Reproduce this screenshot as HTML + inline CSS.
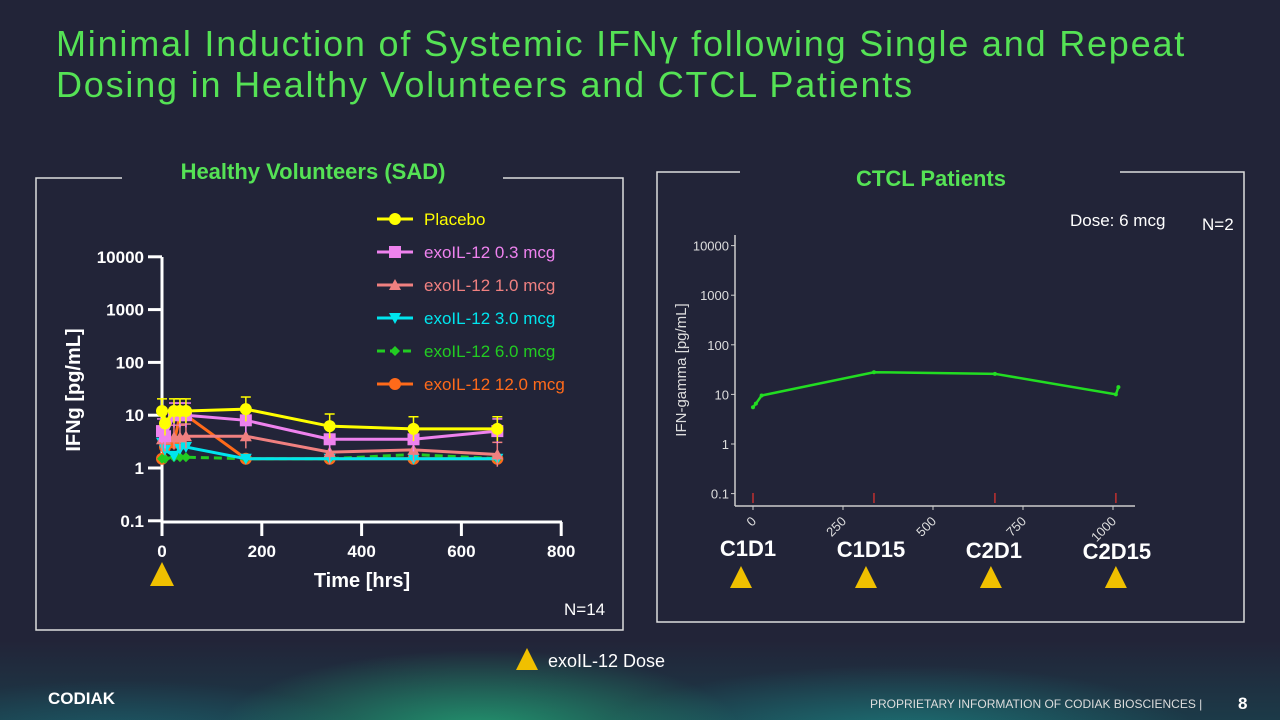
<!DOCTYPE html>
<html><head><meta charset="utf-8"><style>
body{margin:0;width:1280px;height:720px;overflow:hidden;background:#222438;font-family:"Liberation Sans",sans-serif;position:relative}
.t{position:absolute;color:#55e255;font-size:36px;letter-spacing:1.8px;left:56px;line-height:41px;top:23px}
.aur{position:absolute;left:0;top:640px;width:1280px;height:80px;background:radial-gradient(ellipse 260px 80px at 480px 90px,rgba(40,220,140,.55),transparent),radial-gradient(ellipse 300px 70px at 900px 95px,rgba(30,180,170,.45),transparent),radial-gradient(ellipse 250px 60px at 120px 100px,rgba(30,140,150,.4),transparent),linear-gradient(#222438,#1c3a48)}
</style></head><body>
<div class="aur"></div>
<div class="t">Minimal Induction of Systemic IFNγ following Single and Repeat<br>Dosing in Healthy Volunteers and CTCL Patients</div>
<svg id="s" width="1280" height="720" style="position:absolute;left:0;top:0" font-family="Liberation Sans, sans-serif">
<g fill="none" stroke="#ddd" stroke-width="1.5">
<polyline points="122,178 36,178 36,630 623,630 623,178 503,178"/>
</g>
<text x="313" y="179" text-anchor="middle" fill="#55e255" font-size="22" font-weight="bold">Healthy Volunteers (SAD)</text>
<g fill="none" stroke="#ddd" stroke-width="1.5">
<polyline points="740,172 657,172 657,622 1244,622 1244,172 1120,172"/>
</g>
<text x="931" y="186" text-anchor="middle" fill="#55e255" font-size="22" font-weight="bold">CTCL Patients</text>
<g id="L"></g><g id="R"></g>
<text x="1070" y="226" fill="#fff" font-size="17">Dose: 6 mcg</text>
<text x="1202" y="230" fill="#fff" font-size="17">N=2</text>
<text x="564" y="615" fill="#fff" font-size="17">N=14</text>
<polygon points="516,670 538,670 527,648" fill="#f0c000"/>
<text x="548" y="667" fill="#fff" font-size="18">exoIL-12 Dose</text>
<text x="48" y="704" fill="#fff" font-size="17" font-weight="bold">CODIAK</text>
<text x="870" y="708" fill="#ddd" font-size="12">PROPRIETARY INFORMATION OF CODIAK BIOSCIENCES  |</text>
<text x="1238" y="709" fill="#fff" font-size="17" font-weight="bold">8</text>
</svg>
<script>
const NS='http://www.w3.org/2000/svg';
function mk(p,tag,a,txt){const e=document.createElementNS(NS,tag);for(const k in a)e.setAttribute(k,a[k]);if(txt!==undefined)e.textContent=txt;p.appendChild(e);return e;}
// Left chart data
const times=[0,6,24,36,48,168,336,504,672];
const placebo=[12,7,12,12,12,13,6.2,5.5,5.5];
const dose03=[5,4,10,10,10,8,3.5,3.5,5];
const dose10=[3.5,3.5,3.8,3.8,4,4,2,2.2,1.8];
const dose30=[3,2.2,1.7,2.3,2.5,1.5,1.5,1.5,1.5];
const dose60=[1.5,1.5,1.6,1.6,1.6,1.5,1.5,1.8,1.5];
const dose120=[1.5,2.5,3,10,10,1.5,1.5,1.5,1.5];
const xTicksL=[0,200,400,600,800];
const yTicksL=[0.1,1,10,100,1000,10000];
const legendNames=['Placebo','exoIL-12 0.3 mcg','exoIL-12 1.0 mcg','exoIL-12 3.0 mcg','exoIL-12 6.0 mcg','exoIL-12 12.0 mcg'];
// Right chart data
const ctclTimes=[0,8,24,336,672,1008,1015];
const ctclVals=[5.5,6.5,9.5,28,26,10,14];
const xTicksR=[0,250,500,750,1000];
const yTicksR=[0.1,1,10,100,1000,10000];
const doseTimesR=[0,336,672,1008];
const doseLabels=['C1D1','C1D15','C2D1','C2D15'];

const xL=v=>162+v*0.499, yL=v=>468-Math.log10(v)*52.8;
const xR=v=>753+v*0.36, yR=v=>444-Math.log10(v)*49.6;
const L=document.getElementById('L'), R=document.getElementById('R');
let ax=mk(L,'g',{});
mk(ax,'line',{x1:162,y1:257,x2:162,y2:522,stroke:'#fff','stroke-width':3});
mk(ax,'line',{x1:162,y1:522,x2:562,y2:522,stroke:'#fff','stroke-width':3});
yTicksL.forEach(v=>{mk(ax,'line',{x1:148,x2:162,y1:yL(v),y2:yL(v),stroke:'#fff','stroke-width':3});
const t=mk(ax,'text',{x:144,y:yL(v)+6,'text-anchor':'end',fill:'#fff','font-size':17,'font-weight':'bold'},v);});
xTicksL.forEach(v=>{mk(ax,'line',{x1:xL(v),x2:xL(v),y1:522,y2:536,stroke:'#fff','stroke-width':3});
const t=mk(ax,'text',{x:xL(v),y:557,'text-anchor':'middle',fill:'#fff','font-size':17,'font-weight':'bold'},v);});
let t=mk(ax,'text',{x:362,y:587,'text-anchor':'middle',fill:'#fff','font-size':20,'font-weight':'bold'},'Time [hrs]');
t=mk(ax,'text',{transform:'translate(80,390) rotate(-90)','text-anchor':'middle',fill:'#fff','font-size':20,'font-weight':'bold'},'IFNg [pg/mL]');
const tri=mk(L,'polygon',{points:'150,586 174,586 162,562',fill:'#f0c000'});
const series=[[placebo,'#ffff00','c'],[dose03,'#ee82ee','s'],[dose10,'#f08080','t'],[dose30,'#00e5ee','v'],[dose60,'#22cc22','d'],[dose120,'#ff6a1a','c']];
function marker(g,sh,x,y,c){if(sh==='c')mk(g,'circle',{cx:x,cy:y,r:6,fill:c});else if(sh==='s')mk(g,'rect',{x:x-6,y:y-6,width:12,height:12,fill:c});else if(sh==='t')mk(g,'polygon',{points:`${x-6},${y+5} ${x+6},${y+5} ${x},${y-6}`,fill:c});else if(sh==='v')mk(g,'polygon',{points:`${x-6},${y-5} ${x+6},${y-5} ${x},${y+6}`,fill:c});else mk(g,'polygon',{points:`${x},${y-5} ${x+5},${y} ${x},${y+5} ${x-5},${y}`,fill:c});}
[5,4,3,2,1,0].forEach(i=>{const [d,c,sh]=series[i];const g=mk(L,'g',{});
if(i<3)d.forEach((v,j)=>{mk(g,'line',{x1:xL(times[j]),x2:xL(times[j]),y1:yL(v*1.7),y2:yL(v/1.7),stroke:c,'stroke-width':1.5});mk(g,'line',{x1:xL(times[j])-5,x2:xL(times[j])+5,y1:yL(v*1.7),y2:yL(v*1.7),stroke:c,'stroke-width':1.5});});
mk(g,'polyline',{points:d.map((v,j)=>xL(times[j])+','+yL(v)).join(' '),fill:'none',stroke:c,'stroke-width':3,'stroke-dasharray':i===4?'8,5':''});
d.forEach((v,j)=>marker(g,sh,xL(times[j]),yL(v),c));});
legendNames.forEach((n,i)=>{const [d,c,sh]=series[i];const g=mk(L,'g',{});const y=219+i*33;
mk(g,'line',{x1:377,x2:413,y1:y,y2:y,stroke:c,'stroke-width':3,'stroke-dasharray':i===4?'8,5':''});marker(g,sh,395,y,c);
mk(g,'text',{x:424,y:y+6,fill:c,'font-size':17},n);});
// Right chart
const ar=mk(R,'g',{});
mk(ar,'line',{x1:735,y1:235,x2:735,y2:506,stroke:'#ccc','stroke-width':1.5});
mk(ar,'line',{x1:735,y1:506,x2:1135,y2:506,stroke:'#ccc','stroke-width':1.5});
yTicksR.forEach(v=>{mk(ar,'line',{x1:731,x2:735,y1:yR(v),y2:yR(v),stroke:'#ccc'});
const q=mk(ar,'text',{x:729,y:yR(v)+5,'text-anchor':'end',fill:'#ddd','font-size':13},v);});
xTicksR.forEach(v=>{mk(ar,'line',{x1:xR(v),x2:xR(v),y1:506,y2:510,stroke:'#ccc'});
const q=mk(ar,'text',{x:xR(v)+4,y:522,'text-anchor':'end',fill:'#ddd','font-size':13,transform:`rotate(-45 ${xR(v)+4} 522)`},v);});
t=mk(ar,'text',{transform:'translate(686,370) rotate(-90)','text-anchor':'middle',fill:'#ddd','font-size':15},'IFN-gamma [pg/mL]');
doseTimesR.forEach((v,i)=>{mk(ar,'line',{x1:xR(v),x2:xR(v),y1:493,y2:503,stroke:'#c03030','stroke-width':1.5});
const q=mk(R,'text',{x:xR(v)-5+i*2,y:556+i,'text-anchor':'middle',fill:'#fff','font-size':22,'font-weight':'bold'},doseLabels[i]);
const cx=xR(v)-12+i*4;
const p=mk(R,'polygon',{points:`${cx-11},588 ${cx+11},588 ${cx},566`,fill:'#f0c000'});});
const gr=mk(R,'g',{});
mk(gr,'polyline',{points:ctclVals.map((v,j)=>xR(ctclTimes[j])+','+yR(v)).join(' '),fill:'none',stroke:'#22dd22','stroke-width':2.5});
ctclVals.forEach((v,j)=>mk(gr,'circle',{cx:xR(ctclTimes[j]),cy:yR(v),r:2,fill:'#22dd22'}));
</script>
</body></html>
